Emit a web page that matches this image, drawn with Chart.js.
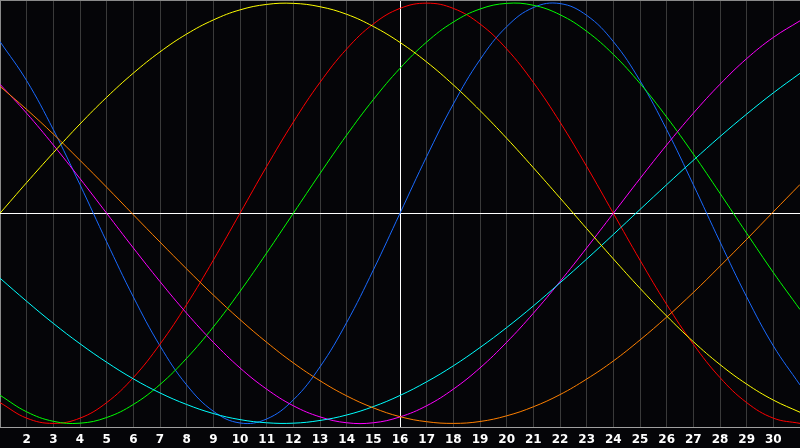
<!DOCTYPE html>
<html>
<head>
<meta charset="utf-8">
<script src="https://cdn.jsdelivr.net/npm/chart.js@4/dist/chart.umd.min.js"></script>
<style>
  html, body { margin: 0; padding: 0; background: #050508; }
  #wrap { width: 800px; height: 448px; position: relative; }
</style>
</head>
<body>
<div id="wrap"><canvas id="chart1"></canvas></div>
<script>
// days of the month shown on the x axis
const days = [1,2,3,4,5,6,7,8,9,10,11,12,13,14,15,16,17,18,19,20,21,22,23,24,25,26,27,28,29,30,31];
const today = 16;

// cycle values, -1 .. 1
const physical = [0.817,0.631,0.398,0.136,-0.136,-0.398,-0.631,-0.817,-0.942,-0.998,-0.979,-0.888,-0.731,-0.520,-0.270,0,
  0.270,0.520,0.731,0.888,0.979,0.998,0.942,0.817,0.631,0.398,0.136,-0.136,-0.398,-0.631,-0.817];
const emotional = [-0.901,-0.975,-1,-0.975,-0.901,-0.782,-0.623,-0.434,-0.223,0,0.223,0.434,0.623,0.782,0.901,0.975,
  1,0.975,0.901,0.782,0.623,0.434,0.223,0,-0.223,-0.434,-0.623,-0.782,-0.901,-0.975,-1];
const intellectual = [-0.866,-0.945,-0.990,-0.999,-0.972,-0.910,-0.815,-0.690,-0.541,-0.372,-0.189,0,0.189,0.372,0.541,0.690,
  0.815,0.910,0.972,0.999,0.990,0.945,0.866,0.756,0.618,0.458,0.282,0.095,-0.095,-0.282,-0.458];
const intuitive = [0.614,0.476,0.325,0.165,0,-0.165,-0.325,-0.476,-0.614,-0.736,-0.837,-0.916,-0.969,-0.997,-0.997,-0.969,
  -0.916,-0.837,-0.736,-0.614,-0.476,-0.325,-0.165,0,0.165,0.325,0.476,0.614,0.736,0.837,0.916];
const aesthetic = [0,0.146,0.288,0.425,0.552,0.667,0.768,0.853,0.920,0.968,0.994,0.999,0.983,0.947,0.889,0.813,
  0.720,0.611,0.489,0.357,0.217,0.073,-0.073,-0.217,-0.357,-0.489,-0.611,-0.720,-0.813,-0.889,-0.947];
const awareness = [0.604,0.494,0.377,0.252,0.124,-0.007,-0.137,-0.265,-0.389,-0.506,-0.614,-0.712,-0.797,-0.869,-0.926,-0.968,
  -0.992,-1.000,-0.991,-0.964,-0.921,-0.863,-0.789,-0.703,-0.603,-0.494,-0.377,-0.252,-0.124,0.007,0.137];
const spiritual = [-0.309,-0.419,-0.524,-0.621,-0.709,-0.788,-0.855,-0.910,-0.953,-0.982,-0.997,-0.999,-0.986,-0.960,-0.920,-0.867,
  -0.802,-0.726,-0.639,-0.544,-0.441,-0.331,-0.218,-0.101,0.018,0.136,0.252,0.365,0.472,0.573,0.666];

const yMin = -1.02;
const yMax = 1.015;

// series list: name, values, colour
const series = [
  ['Aesthetic', aesthetic, '#ffff00'],
  ['Awareness', awareness, '#ff8000'],
  ['Spiritual', spiritual, '#00ffff'],
  ['Intuitive', intuitive, '#ff00ff'],
  ['Intellectual', intellectual, '#00ff00'],
  ['Emotional', emotional, '#ff0000'],
  ['Physical', physical, '#1a6aff']
];

let dataSets = [];
for (let i = 0; i < series.length; i++) {
  const s = series[i];
  dataSets.push({
    label: s[0],
    data: days.map((d, j) => ({ x: d, y: s[1][j] })),
    borderColor: s[2],
    backgroundColor: s[2],
    borderWidth: 1,
    pointRadius: 0,
    pointHoverRadius: 0,
    tension: 0.4,
    fill: false
  });
}

const config = {
  type: 'line',
  data: { datasets: dataSets },
  options: {
    responsive: true,
    maintainAspectRatio: false,
    animation: false,
    layout: { autoPadding: false, padding: { left: 0, right: 0, top: 0, bottom: 1 } },
    plugins: { legend: { display: false }, tooltip: { enabled: false } },
    scales: {
      x: {
        type: 'linear',
        min: days[0],
        max: days[days.length - 1],
        ticks: {
          stepSize: 1,
          autoSkip: false,
          maxRotation: 0,
          padding: 0, // padding here also pads left/right, so the gap comes from tickLength
          color: '#ffffff',
          font: { family: 'DejaVu Sans', size: 12, weight: 'bold' },
          callback: v => (v <= days[0] || v >= days[days.length - 1]) ? '' : v
        },
        grid: {
          drawTicks: true,
          tickLength: 5,
          tickColor: 'rgba(0,0,0,0)',
          lineWidth: 1,
          color: ctx => {
            const v = ctx.tick && ctx.tick.value;
            if (v === today) return '#ffffff';
            if (v === days[0] || v === days[days.length - 1]) return '#8a8a8a';
            return '#3a3a3a';
          }
        },
        border: { display: true, color: '#a0a0a0', width: 1 }
      },
      y: {
        min: yMin,
        max: yMax,
        afterBuildTicks: scale => {
          scale.ticks = [{ value: yMin }, { value: 0 }, { value: yMax }];
        },
        ticks: { display: false },
        grid: {
          drawTicks: false,
          lineWidth: 1,
          color: ctx => (ctx.tick && ctx.tick.value === 0) ? '#ffffff' : '#8a8a8a'
        },
        border: { display: false }
      }
    }
  }
};

const myChart = new Chart(document.getElementById('chart1'), config);
</script>
</body>
</html>
